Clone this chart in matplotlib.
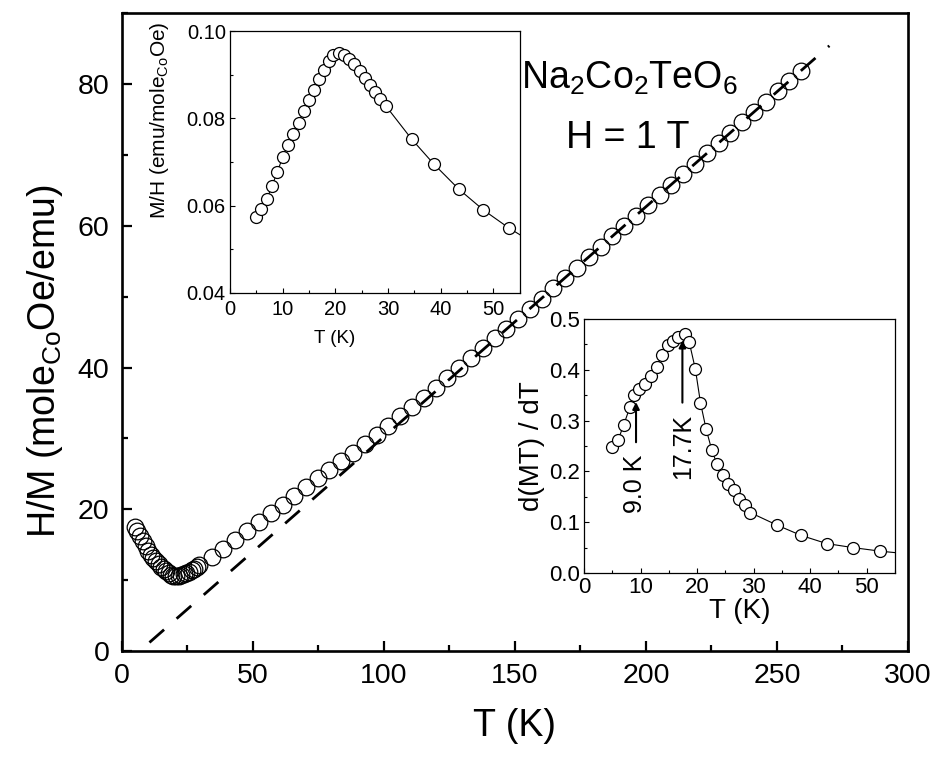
import matplotlib
matplotlib.use('Agg')
import matplotlib.pyplot as plt
from matplotlib.ticker import MultipleLocator

plt.rcParams['font.family'] = ['Liberation Sans', 'DejaVu Sans']
plt.rcParams['mathtext.fontset'] = 'custom'
plt.rcParams['mathtext.rm'] = 'Liberation Sans'
plt.rcParams['mathtext.it'] = 'Liberation Sans:italic'

# main panel: H/M vs T
T_main = [5.0, 5.9, 7.0, 8.0, 9.0, 10.0, 11.0, 12.0, 13.0, 14.0, 15.0, 16.0, 16.9,
          17.8, 18.8, 19.6, 20.6, 21.7, 22.6, 23.6, 24.6, 25.6, 26.6, 27.5, 28.5,
          29.6, 34.3, 38.7, 43.2, 47.8, 52.4, 56.8, 61.3, 65.7, 70.2, 74.7, 79.2,
          83.7, 88.2, 92.7, 97.2, 101.7, 106.2, 110.7, 115.2, 119.7, 124.2, 128.7,
          133.2, 137.7, 142.2, 146.7, 151.2, 155.7, 160.2, 164.7, 169.2, 173.7,
          178.2, 182.7, 187.2, 191.7, 196.2, 200.7, 205.2, 209.7, 214.2, 218.7,
          223.2, 227.7, 232.2, 236.7, 241.2, 245.7, 250.2, 254.7, 259.2]
HM_main = [17.45, 16.9, 16.26, 15.48, 14.75, 14.06, 13.51, 13.07, 12.66, 12.24, 11.88,
           11.57, 11.24, 10.99, 10.74, 10.57, 10.53, 10.57, 10.67, 10.82, 11.00, 11.20,
           11.42, 11.61, 11.83,
           12.1, 13.3, 14.4, 15.7, 16.9, 18.2, 19.4, 20.6, 21.9, 23.1, 24.4, 25.5,
           26.8, 28.0, 29.2, 30.5, 31.7, 33.1, 34.4, 35.7, 37.1, 38.5, 39.9,
           41.3, 42.7, 44.1, 45.5, 46.9, 48.3, 49.7, 51.2, 52.7, 54.1,
           55.6, 57.0, 58.5, 60.0, 61.4, 62.9, 64.4, 65.8, 67.3, 68.7,
           70.2, 71.7, 73.1, 74.6, 76.0, 77.5, 79.0, 80.4, 81.9]

# Curie-Weiss fit line end points
fit_T = [10.5, 270.0]
fit_HM = [1.2, 85.4]

# inset 1: M/H vs T
T_in1 = [5.0, 5.9, 7.0, 8.0, 9.0, 10.0, 11.0, 12.0, 13.0, 14.0, 15.0, 16.0, 16.9,
         17.8, 18.8, 19.6, 20.6, 21.7, 22.6, 23.6, 24.6, 25.6, 26.6, 27.5, 28.5,
         29.6, 34.5, 38.7, 43.4, 48.1, 52.9, 57.5]
MH_in1 = [0.0573, 0.0592, 0.0615, 0.0646, 0.0678, 0.0711, 0.0740, 0.0765, 0.0790,
          0.0817, 0.0842, 0.0864, 0.0890, 0.0910, 0.0931, 0.0946, 0.0950, 0.0946,
          0.0937, 0.0924, 0.0909, 0.0893, 0.0876, 0.0861, 0.0845, 0.0828, 0.0752,
          0.0695, 0.0638, 0.0590, 0.0549, 0.0515]

# inset 2: d(MT)/dT vs T
T_in2 = [5.0, 6.0, 7.0, 8.1, 8.9, 9.8, 10.8, 11.9, 12.9, 13.8, 14.8, 15.7, 16.7,
         17.8, 18.6, 19.7, 20.6, 21.6, 22.6, 23.5, 24.5, 25.5, 26.5, 27.4, 28.4,
         29.4, 34.2, 38.4, 42.9, 47.6, 52.4, 57.0]
dMT_in2 = [0.248, 0.261, 0.291, 0.326, 0.350, 0.363, 0.373, 0.388, 0.406, 0.430,
           0.449, 0.457, 0.464, 0.470, 0.455, 0.401, 0.335, 0.283, 0.242, 0.215,
           0.193, 0.175, 0.163, 0.145, 0.133, 0.119, 0.094, 0.074, 0.058, 0.050,
           0.043, 0.038]

fig = plt.figure(figsize=(9.38, 7.62), dpi=100)

ax = fig.add_axes([0.130, 0.1457, 0.838, 0.837])
ax.plot(fit_T, fit_HM, color='black', lw=2.0, dashes=(7, 6))
ax.plot(T_main, HM_main, 'o', ms=12, mfc='none', mec='black', mew=0.9)
ax.set_xlim(0, 300)
ax.set_ylim(0, 90)
ax.xaxis.set_major_locator(MultipleLocator(50))
ax.xaxis.set_minor_locator(MultipleLocator(25))
ax.yaxis.set_major_locator(MultipleLocator(20))
ax.yaxis.set_minor_locator(MultipleLocator(10))
ax.tick_params(which='both', direction='in', width=1.6, labelsize=20.5, pad=9)
ax.tick_params(which='major', length=7)
ax.tick_params(which='minor', length=4.5)
for s in ax.spines.values():
    s.set_linewidth(1.9)
ax.set_xlabel('T (K)', fontsize=27)
ax.set_ylabel(r'H/M (mole$_{\mathrm{Co}}$Oe/emu)', fontsize=27)
ax.xaxis.set_label_coords(0.5, -0.09)
ax.yaxis.set_label_coords(-0.072, 0.454)

ax.text(193.5, 80.8, r'Na$_{\mathrm{2}}$Co$_{\mathrm{2}}$TeO$_{\mathrm{6}}$', fontsize=27,
        ha='center', va='center')
ax.text(193, 72.4, 'H = 1 T', fontsize=27, ha='center', va='center')

# inset 1
a1 = fig.add_axes([0.2452, 0.6155, 0.309, 0.3438])
a1.plot(T_in1, MH_in1, '-o', color='black', lw=0.8, ms=8.6, mfc='white',
        mec='black', mew=0.9)
a1.set_xlim(0, 55)
a1.set_ylim(0.04, 0.10)
a1.xaxis.set_major_locator(MultipleLocator(10))
a1.xaxis.set_minor_locator(MultipleLocator(5))
a1.yaxis.set_minor_locator(MultipleLocator(0.01))
a1.set_yticks([0.04, 0.06, 0.08, 0.10])
a1.set_yticklabels(['0.04', '0.06', '0.08', '0.10'])
a1.tick_params(which='both', direction='in', width=0.8, labelsize=14.5, pad=3)
a1.tick_params(axis='x', pad=5)
a1.tick_params(which='major', length=3.5)
a1.tick_params(which='minor', length=2)
for s in a1.spines.values():
    s.set_linewidth(0.9)
a1.set_xlabel('T (K)', fontsize=13.5)
a1.set_ylabel(r'M/H (emu/mole$_{\mathrm{Co}}$Oe)', fontsize=15)
a1.xaxis.set_label_coords(0.36, -0.14)
a1.yaxis.set_label_coords(-0.205, 0.66)

# inset 2
a2 = fig.add_axes([0.6226, 0.2480, 0.3316, 0.3333])
a2.plot(T_in2, dMT_in2, '-o', color='black', lw=0.8, ms=8.6, mfc='white',
        mec='black', mew=0.9)
a2.set_xlim(0, 55)
a2.set_ylim(0, 0.5)
a2.xaxis.set_major_locator(MultipleLocator(10))
a2.xaxis.set_minor_locator(MultipleLocator(5))
a2.yaxis.set_major_locator(MultipleLocator(0.1))
a2.yaxis.set_minor_locator(MultipleLocator(0.05))
a2.tick_params(which='both', direction='in', width=0.8, labelsize=16, pad=3)
a2.tick_params(which='major', length=3.5)
a2.tick_params(which='minor', length=2)
for s in a2.spines.values():
    s.set_linewidth(0.9)
a2.set_xlabel('T (K)', fontsize=20, labelpad=0)
a2.set_ylabel('d(MT) / dT', fontsize=20, labelpad=3)

a2.annotate('', xy=(9.2, 0.342), xytext=(9.2, 0.252),
            arrowprops=dict(arrowstyle='-|>', color='black', lw=1.5,
                            mutation_scale=10))
a2.annotate('', xy=(17.4, 0.463), xytext=(17.4, 0.33),
            arrowprops=dict(arrowstyle='-|>', color='black', lw=1.5,
                            mutation_scale=10))
a2.text(9.1, 0.176, '9.0 K', rotation=90, fontsize=18, ha='center', va='center')
a2.text(17.5, 0.25, '17.7K', rotation=90, fontsize=18, ha='center', va='center')

fig.savefig('out.png', dpi=100)
